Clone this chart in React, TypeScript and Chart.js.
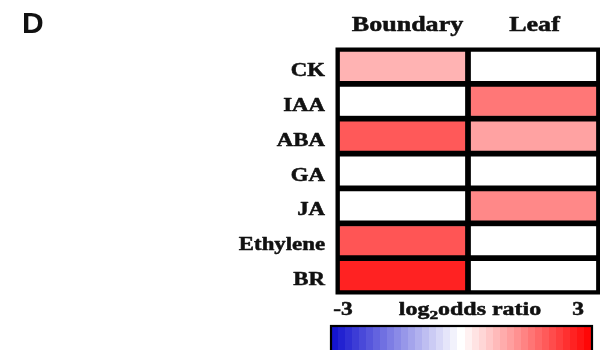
import React, { useEffect, useRef } from "react";
import { Chart, registerables } from "chart.js";

Chart.register(...registerables);

// Heatmap rows (hormones) and columns (tissues)
const hormones = ["CK", "IAA", "ABA", "GA", "JA", "Ethylene", "BR"];
const tissues = ["Boundary", "Leaf"];

// log2 odds ratio per hormone, one array per tissue
const boundaryValues = [0.9, 0, 1.95, 0, 0, 2.0, 2.6];
const leafValues = [0, 1.6, 1.1, 0, 1.4, 0, 0];

// Colour bar range and its end labels
const colorbarMin = -3;
const colorbarMax = 3;
const colorbarTicks = ["-3", "3"];
const colorbarSteps = 37;

const panelLetter = "D";

// Diverging blue - white - red scale
function valueColor(v: number): string {
  const t = Math.max(-1, Math.min(1, v / colorbarMax));
  if (t >= 0) {
    const c = Math.round(255 * (1 - t));
    return `rgb(255,${c},${c})`;
  }
  const a = -t;
  const rg = Math.round(255 - a * 240);
  const b = Math.round(255 - a * 50);
  return `rgb(${rg},${rg},${b})`;
}

const SERIF = '"Liberation Serif", "Times New Roman", serif';

// Text drawn with a horizontal stretch and a light outline for a heavier weight
function stretchedText(
  ctx: CanvasRenderingContext2D,
  text: string,
  x: number,
  y: number,
  align: CanvasTextAlign,
  sx: number
) {
  ctx.save();
  ctx.translate(x, y);
  ctx.scale(sx, 1);
  ctx.textAlign = align;
  ctx.textBaseline = "alphabetic";
  ctx.fillText(text, 0, 0);
  ctx.strokeStyle = ctx.fillStyle as string;
  ctx.lineWidth = 0.5;
  ctx.lineJoin = "round";
  ctx.strokeText(text, 0, 0);
  ctx.restore();
}

const heatmapDecor = {
  id: "heatmapDecor",
  afterDatasetsDraw(chart: any) {
    const ctx: CanvasRenderingContext2D = chart.ctx;
    const area = chart.chartArea;
    const yScale = chart.scales.y;
    const xScale = chart.scales.x;

    ctx.save();
    // outer frame
    ctx.strokeStyle = "#000";
    ctx.lineWidth = 3;
    ctx.strokeRect(area.left, area.top, area.right - area.left, area.bottom - area.top);

    ctx.fillStyle = "#111";

    // panel letter
    ctx.font = 'bold 30px "Liberation Sans", Arial, sans-serif';
    ctx.textAlign = "left";
    ctx.textBaseline = "alphabetic";
    ctx.fillText(panelLetter, 22, 33);

    // row labels
    ctx.font = `bold 19px ${SERIF}`;
    hormones.forEach((h, i) => {
      const y = yScale.getPixelForValue(i);
      stretchedText(ctx, h, area.left - 12, y + 9.6, "right", 1.2);
    });

    // column headers
    ctx.font = `bold 21px ${SERIF}`;
    tissues.forEach((t, i) => {
      const x = xScale.getPixelForValue(i + 0.5);
      stretchedText(ctx, t, x + (i === 0 ? 5 : 1), 30.5, "center", 1.24);
    });

    // colour bar
    const cbLeft = 331;
    const cbRight = 592;
    const cbTop = 326;
    const cbBottom = 356;
    const toPx = (v: number) =>
      cbLeft + ((v - colorbarMin) / (colorbarMax - colorbarMin)) * (cbRight - cbLeft);
    const dv = (colorbarMax - colorbarMin) / colorbarSteps;
    for (let k = 0; k < colorbarSteps; k++) {
      const v0 = colorbarMin + k * dv;
      const v1 = v0 + dv;
      ctx.fillStyle = valueColor(v0 + dv / 2);
      const x0 = Math.floor(toPx(v0));
      ctx.fillRect(x0, cbTop, Math.ceil(toPx(v1)) - x0, cbBottom - cbTop);
    }
    ctx.strokeStyle = "#000";
    ctx.lineWidth = 2.2;
    ctx.strokeRect(cbLeft, cbTop, cbRight - cbLeft, cbBottom - cbTop);

    // colour bar labels
    ctx.fillStyle = "#111";
    ctx.font = `bold 18px ${SERIF}`;
    stretchedText(ctx, colorbarTicks[0], toPx(colorbarMin) + 12, 314.5, "center", 1.3);
    stretchedText(ctx, colorbarTicks[1], toPx(colorbarMax) - 14, 314.5, "center", 1.3);

    const sx = 1.33;
    const mainFont = `bold 18px ${SERIF}`;
    const subFont = `bold 13px ${SERIF}`;
    ctx.font = mainFont;
    const wLog = ctx.measureText("log").width;
    const wRest = ctx.measureText("odds ratio").width;
    ctx.font = subFont;
    const wSub = ctx.measureText("2").width;
    const total = (wLog + wSub + wRest) * sx;
    let x = 470 - total / 2;
    ctx.font = mainFont;
    stretchedText(ctx, "log", x, 314.5, "left", sx);
    x += wLog * sx;
    ctx.font = subFont;
    stretchedText(ctx, "2", x, 319, "left", sx);
    x += wSub * sx;
    ctx.font = mainFont;
    stretchedText(ctx, "odds ratio", x, 314.5, "left", sx);

    ctx.restore();
  },
};

export default function App() {
  const canvasRef = useRef<HTMLCanvasElement | null>(null);

  useEffect(() => {
    if (!canvasRef.current) return;
    const cellDataset = (label: string, col: number, values: number[]) => ({
      label,
      data: values.map(() => [col, col + 1]),
      backgroundColor: values.map(valueColor),
      borderColor: "#000",
      borderWidth: 3.2,
      borderSkipped: false as const,
      barPercentage: 1,
      categoryPercentage: 1,
      grouped: false,
    });

    const chart = new Chart(canvasRef.current, {
      type: "bar",
      data: {
        labels: hormones,
        datasets: [
          cellDataset(tissues[0], 0, boundaryValues),
          cellDataset(tissues[1], 1, leafValues),
        ],
      },
      options: {
        indexAxis: "y",
        animation: false,
        responsive: true,
        maintainAspectRatio: false,
        layout: { padding: { left: 337, right: 1, top: 49, bottom: 57 } },
        scales: {
          x: { type: "linear", min: 0, max: tissues.length, display: false },
          y: { type: "category", display: false, offset: true },
        },
        plugins: {
          legend: { display: false },
          tooltip: { enabled: false },
        },
      },
      plugins: [heatmapDecor],
    });
    return () => chart.destroy();
  }, []);

  return (
    <div
      style={{
        position: "fixed",
        left: 0,
        top: 0,
        width: 600,
        height: 350,
        background: "#fff",
      }}
    >
      <canvas ref={canvasRef} />
    </div>
  );
}
